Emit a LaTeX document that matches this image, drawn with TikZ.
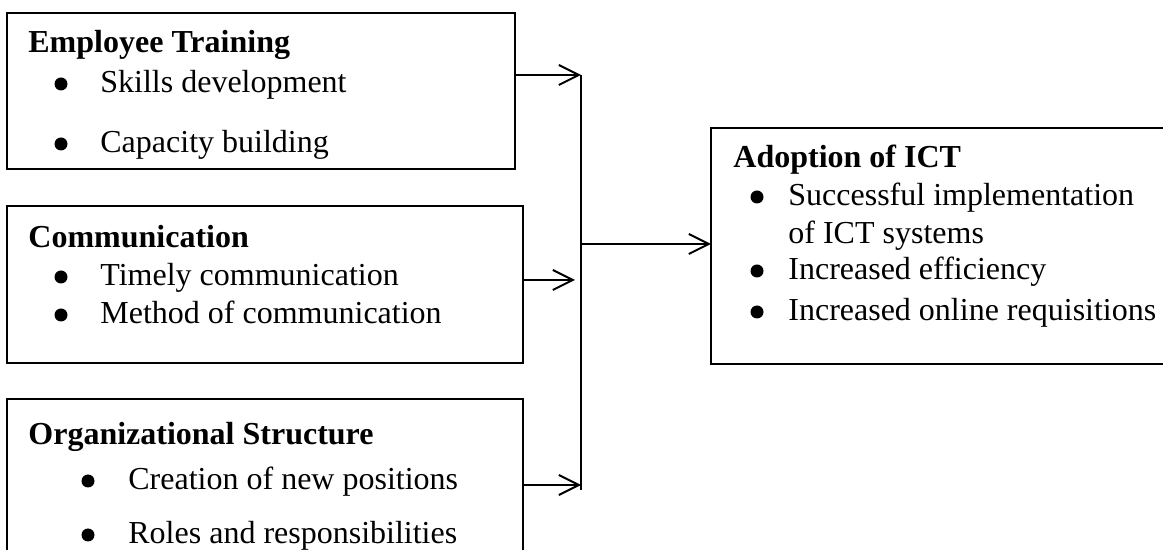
\documentclass[tikz,border=0pt]{standalone}
\usepackage{fontspec}
\setmainfont{Liberation Serif}
\usetikzlibrary{arrows.meta}

\begin{document}
\begin{tikzpicture}[x=0.5pt,y=-0.5pt,
  box/.style={draw, line width=1pt, inner sep=0pt, outer sep=0pt, anchor=north west},
  hd/.style={anchor=base west, inner sep=0pt, font=\fontsize{16}{19}\selectfont\bfseries},
  itm/.style={anchor=base west, inner sep=0pt, font=\fontsize{16}{19}\selectfont},
  bul/.style={circle, fill, inner sep=0pt, minimum size=6.5pt},
  arr/.style={line width=1pt, -{Straight Barb[length=10pt,width=10pt]}}]
\useasboundingbox (0,0) rectangle (1163,550);
% boxes
\node[box, minimum width=254pt, minimum height=78pt] (train) at (7,13){};
\node[box, minimum width=258pt, minimum height=78.5pt] (comm) at (7,206){};
\node[box, minimum width=258pt, minimum height=81pt] (org) at (7,399){};
\node[box, minimum width=231pt, minimum height=118pt] (adopt) at (711,128){};
% employee training
\node[hd] (trainT) at (28,53){Employee Training};
\node[bul] (trainB1) at (61,84){};
\node[itm] (trainI1) at (100,93){Skills development};
\node[bul] (trainB2) at (61,144){};
\node[itm] (trainI2) at (100,153){Capacity building};
% communication
\node[hd] (commT) at (28,248){Communication};
\node[bul] (commB1) at (61,277){};
\node[itm] (commI1) at (100,286){Timely communication};
\node[bul] (commB2) at (61,315){};
\node[itm] (commI2) at (100,324){Method of communication};
% organizational structure
\node[hd] (orgT) at (28,445){Organizational Structure};
\node[bul] (orgB1) at (88,481){};
\node[itm] (orgI1) at (128,490){Creation of new positions};
\node[bul] (orgB2) at (88,535){};
\node[itm] (orgI2) at (128,544){Roles and responsibilities};
% adoption of ict
\node[hd] (adoptT) at (733,168){Adoption of ICT};
\node[bul] (adoptB1) at (757,197){};
\node[itm] (adoptI1) at (788,206){Successful implementation};
\node[itm] (adoptI1b) at (788,244){of ICT systems};
\node[bul] (adoptB2) at (757,271){};
\node[itm] (adoptI2) at (788,280){Increased efficiency};
\node[bul] (adoptB3) at (757,312){};
\node[itm] (adoptI3) at (788,321){Increased online requisitions};
% connectors
\coordinate (j1) at (581,75);
\coordinate (j2) at (575,280);
\coordinate (j3) at (581,485);
\coordinate (jend) at (581,490);
\coordinate (jm) at (581,244);
\draw[line width=1pt] (j1) -- (jend);
\draw[arr] (train.east |- j1) -- (j1);
\draw[arr] (comm.east |- j2) -- (j2);
\draw[arr] (org.east |- j3) -- (j3);
\draw[arr] (jm) -- (adopt.west |- jm);

\end{tikzpicture}
\end{document}
